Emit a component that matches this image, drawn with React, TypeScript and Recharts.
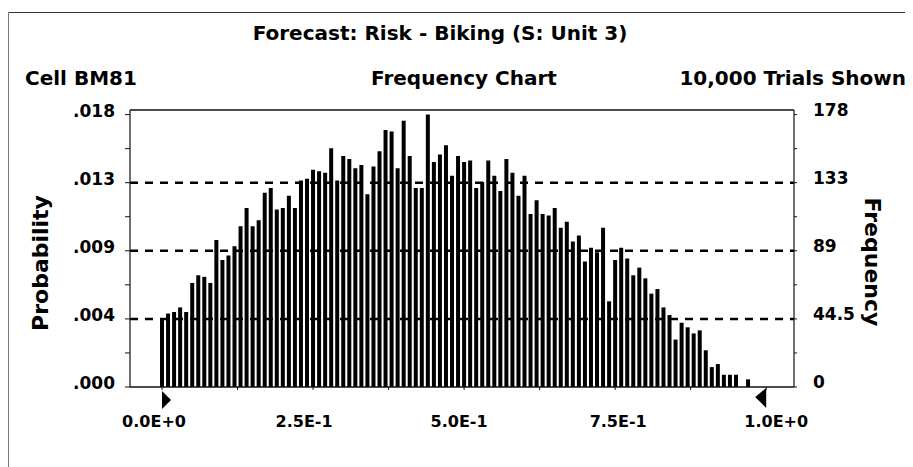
import React from 'react';
import { BarChart, Bar, XAxis, YAxis, ReferenceLine } from 'recharts';

// Frequency counts per bin (100 bins of width 0.01, 10,000 trials)
const counts = [
  45, 48, 49, 52, 49, 68, 73, 72, 68, 96,
  83, 86, 92, 105, 117, 105, 109, 127, 130, 116,
  117, 125, 117, 135, 136, 142, 141, 140, 156, 135,
  151, 149, 143, 145, 126, 144, 154, 168, 167, 143,
  174, 151, 130, 130, 178, 147, 152, 158, 138, 151,
  147, 148, 130, 134, 148, 138, 128, 149, 140, 125,
  138, 113, 122, 113, 112, 117, 104, 108, 95, 99,
  82, 91, 88, 104, 56, 83, 91, 84, 73, 78,
  71, 61, 64, 52, 47, 31, 42, 39, 35, 37,
  24, 13, 15, 8, 8, 8, 0, 5, 0, 0,
];
const BIN_WIDTH = 0.01;
const binStarts = counts.map((_, i) => Math.round(i * BIN_WIDTH * 100) / 100);

const xLabelValues = [0, 0.25, 0.5, 0.75, 1];
const xLabels = ['0.0E+0', '2.5E-1', '5.0E-1', '7.5E-1', '1.0E+0'];
const xMinorTicks = [0.125, 0.375, 0.625, 0.875];
const X_DOMAIN: [number, number] = [-0.053, 1.046];

const yMajorTicks = [0, 44.5, 89, 133.5, 178];
const probLabels = ['.000', '.004', '.009', '.013', '.018'];
const freqLabels = ['0', '44.5', '89', '133', '178'];
const yMinorTicks = [22.25, 66.75, 111.25, 155.75];
const gridValues = [44.5, 89, 133.5];
const Y_MAX = 181;

const title = 'Forecast: Risk - Biking (S: Unit 3)';
const cellLabel = 'Cell BM81';
const chartLabel = 'Frequency Chart';
const trialsLabel = '10,000 Trials Shown';
const leftAxisTitle = 'Probability';
const rightAxisTitle = 'Frequency';

const data = counts.map((c, i) => ({ x: binStarts[i], count: c }));
const xTicks = [...xLabelValues, ...xMinorTicks].sort((a, b) => a - b);
const yTicks = [...yMajorTicks, ...yMinorTicks].sort((a, b) => a - b);

// styling
const FONT = "'DejaVu Sans', Verdana, sans-serif";
const X_LABEL_SHIFT = [-8, -9, -5, 3, 10];
const INK = '#111';
const TICK_FONT = 17;

const XTick = (props: any) => {
  const { x, y, payload } = props;
  const idx = xLabelValues.findIndex((t) => Math.abs(t - payload.value) < 1e-9);
  if (idx < 0) return <g />;
  return (
    <g>
      <text
        x={x + X_LABEL_SHIFT[idx]}
        y={y + 37}
        textAnchor="middle"
        fontFamily={FONT}
        fontWeight="bold"
        fontSize={16}
        fill="#000"
      >
        {xLabels[idx]}
      </text>
      {idx === 0 && (
        <polygon points={`${x},${y + 1} ${x + 9},${y + 10} ${x},${y + 19}`} fill="#000" />
      )}
      {idx === xLabelValues.length - 1 && (
        <polygon points={`${x},${y - 2} ${x - 11},${y + 7} ${x},${y + 18}`} fill="#000" />
      )}
    </g>
  );
};

const LeftTick = (props: any) => {
  const { x, y, payload } = props;
  const idx = yMajorTicks.indexOf(payload.value);
  if (idx < 0) return <g />;
  return (
    <text
      x={x}
      y={y - 4}
      textAnchor="end"
      dominantBaseline="central"
      fontFamily={FONT}
      fontWeight="bold"
      fontSize={TICK_FONT}
      fill="#000"
    >
      {probLabels[idx]}
    </text>
  );
};

const RightTick = (props: any) => {
  const { x, y, payload } = props;
  const idx = yMajorTicks.indexOf(payload.value);
  if (idx < 0) return <g />;
  return (
    <text
      x={x}
      y={y - 5}
      textAnchor="start"
      dominantBaseline="central"
      fontFamily={FONT}
      fontWeight="bold"
      fontSize={TICK_FONT}
      fill="#000"
    >
      {freqLabels[idx]}
    </text>
  );
};

const textStyle = { fontFamily: FONT, fontWeight: 'bold' as const, fill: '#000' };

export default function App() {
  return (
    <div style={{ position: 'relative', width: 905, height: 459, background: '#fff' }}>
      <BarChart
        width={905}
        height={459}
        data={data}
        margin={{ top: 102, right: 0, bottom: 0, left: 0 }}
      >
        <XAxis
          dataKey="x"
          type="number"
          domain={X_DOMAIN}
          allowDataOverflow
          ticks={xTicks}
          interval={0}
          tickSize={3}
          tickMargin={0}
          height={80}
          axisLine={{ stroke: INK, strokeWidth: 1.5 }}
          tickLine={{ stroke: INK }}
          tick={<XTick />}
        />
        <YAxis
          yAxisId="left"
          orientation="left"
          width={122}
          domain={[0, Y_MAX]}
          allowDataOverflow
          ticks={yTicks}
          interval={0}
          tickSize={5}
          tickMargin={10}
          axisLine={{ stroke: INK, strokeWidth: 1.2 }}
          tickLine={{ stroke: INK }}
          tick={<LeftTick />}
        />
        <YAxis
          yAxisId="right"
          orientation="right"
          width={119}
          domain={[0, Y_MAX]}
          allowDataOverflow
          ticks={yTicks}
          interval={0}
          tickSize={3}
          tickMargin={16}
          axisLine={{ stroke: INK, strokeWidth: 1.2 }}
          tickLine={{ stroke: INK }}
          tick={<RightTick />}
        />
        {gridValues.map((v) => (
          <ReferenceLine
            key={v}
            yAxisId="left"
            y={v}
            stroke="#000"
            strokeWidth={2.5}
            strokeDasharray="8 7"
          />
        ))}
        <ReferenceLine yAxisId="left" y={Y_MAX} stroke={INK} strokeWidth={1.5} />
        <Bar
          dataKey="count"
          yAxisId="left"
          fill="#000"
          barSize={4}
          isAnimationActive={false}
        />
      </BarChart>
      <svg
        width={905}
        height={459}
        style={{ position: 'absolute', left: 0, top: 0, pointerEvents: 'none' }}
      >
        <line x1={0.5} y1={4.5} x2={905} y2={4.5} stroke="#333" strokeWidth={1} />
        <line x1={0.5} y1={4.5} x2={0.5} y2={459} stroke="#777" strokeWidth={1} />
        <text x={432} y={32} textAnchor="middle" fontSize={20} {...textStyle}>
          {title}
        </text>
        <text x={17} y={77} textAnchor="start" fontSize={20} {...textStyle}>
          {cellLabel}
        </text>
        <text x={456} y={77} textAnchor="middle" fontSize={20} {...textStyle}>
          {chartLabel}
        </text>
        <text x={898} y={77} textAnchor="end" fontSize={20} {...textStyle}>
          {trialsLabel}
        </text>
        <text
          transform="translate(32,255) rotate(-90)"
          textAnchor="middle"
          dominantBaseline="central"
          fontSize={22}
          {...textStyle}
        >
          {leftAxisTitle}
        </text>
        <text
          transform="translate(864,254) rotate(90)"
          textAnchor="middle"
          dominantBaseline="central"
          fontSize={22}
          {...textStyle}
        >
          {rightAxisTitle}
        </text>
      </svg>
    </div>
  );
}
